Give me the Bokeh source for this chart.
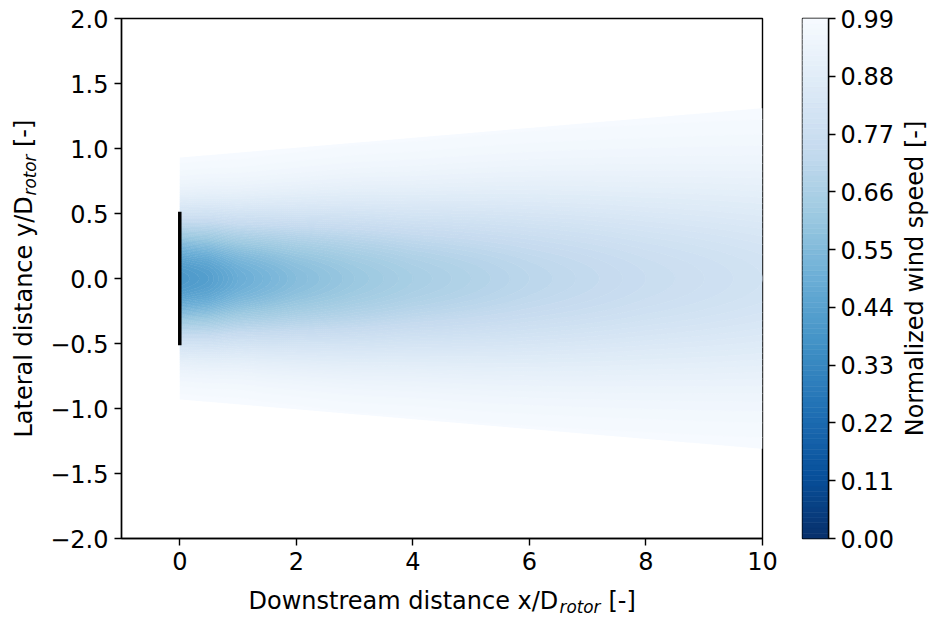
import numpy as np
from bokeh.plotting import figure
from bokeh.models import FixedTicker, CustomJSTickFormatter, Label, Range1d
from bokeh.layouts import row, column
from bokeh.palettes import Blues256
from bokeh.embed import file_html
from bokeh.resources import INLINE

# ---- values ----
station_x = [0.0, 0.5, 1.0, 2.0, 3.0, 4.0, 6.0, 8.0, 10.0]          # x/D stations
centre_speed = [0.40, 0.43, 0.49, 0.56, 0.61, 0.65, 0.71, 0.76, 0.80]  # normalized speed on the axis
wake_sigma = [0.34, 0.35, 0.36, 0.39, 0.42, 0.44, 0.49, 0.53, 0.57]    # lateral wake width y/D
domain_x = [0.0, 10.0]
domain_half_width = [0.93, 1.31]
rotor_x = [0.0, 0.0]
rotor_y = [-0.5, 0.5]
level_min, level_max, n_levels = 0.0, 0.99, 100
x_ticks = [0, 2, 4, 6, 8, 10]
y_ticks = [-2.0, -1.5, -1.0, -0.5, 0.0, 0.5, 1.0, 1.5, 2.0]
cbar_ticks = [0.0, 0.11, 0.22, 0.33, 0.44, 0.55, 0.66, 0.77, 0.88, 0.99]

FONT = "DejaVu Sans"
FS = 24
SUB = 16.8

# ---- field on the (curvilinear) wake mesh ----
gx = np.linspace(domain_x[0], domain_x[-1], 301)
eta = np.linspace(-1.0, 1.0, 241)
half = np.interp(gx, domain_x, domain_half_width)
uc = np.interp(gx, station_x, centre_speed)
sg = np.interp(gx, station_x, wake_sigma)
X = np.tile(gx, (len(eta), 1))
Y = eta[:, None] * half[None, :]
Z = 1.0 - (1.0 - uc)[None, :] * np.exp(-Y ** 2 / (2.0 * sg[None, :] ** 2))

levels = np.linspace(level_min, level_max, n_levels)
pal = list(Blues256)
def _lum(h):
    return int(h[1:3], 16) + int(h[3:5], 16) + int(h[5:7], 16)
if _lum(pal[0]) > _lum(pal[-1]):
    pal = pal[::-1]          # dark -> light (Blues_r)
def cmap(v):
    return pal[int(np.clip(round((v - level_min) / (level_max - level_min) * 255), 0, 255))]
mids = 0.5 * (levels[:-1] + levels[1:])
band_colors = [cmap(m) for m in mids]
level_colors = [cmap(v) for v in levels]

# ---- page geometry (pixels) ----
FRAME_L, FRAME_R, FRAME_T, FRAME_B = 121, 762, 18, 538
W0 = 45                      # width of the y-title strip
XT = 38                      # height of the x-title strip

# ---- main figure ----
W, H = 780 - W0, 617 - XT
p = figure(width=W, height=H, x_range=Range1d(-1, 10), y_range=Range1d(-2, 2),
           output_backend="svg", toolbar_location=None,
           min_border_left=FRAME_L - W0, min_border_right=780 - FRAME_R,
           min_border_top=FRAME_T, min_border_bottom=H - FRAME_B)
p.grid.visible = False
p.outline_line_color = "black"
p.outline_line_width = 1.4

p.contour(x=X, y=Y, z=Z, levels=levels, fill_color=band_colors,
          line_color=level_colors, line_width=1.0)
p.line(x=rotor_x, y=rotor_y, line_color="black", line_width=3.5, line_cap="square")

p.xaxis.ticker = FixedTicker(ticks=x_ticks)
p.yaxis.ticker = FixedTicker(ticks=y_ticks)
p.yaxis.formatter = CustomJSTickFormatter(code="return tick.toFixed(1).replace('-', '\u2212');")

def style_axis(ax, standoff):
    ax.major_tick_out = 7
    ax.major_tick_in = 0
    ax.minor_tick_out = 0
    ax.minor_tick_in = 0
    ax.major_tick_line_width = 1.4
    ax.major_tick_line_color = "black"
    ax.axis_line_width = 1.4
    ax.axis_line_color = "black"
    ax.major_label_text_font = FONT
    ax.major_label_text_font_size = f"{FS}px"
    ax.major_label_text_color = "black"
    ax.major_label_standoff = standoff

style_axis(p.xaxis[0], 6)
style_axis(p.yaxis[0], 6)

# ---- strips holding the axis titles; their frames get aligned with the plot frames,
#      so their ranges are given in page pixels of those aligned frames ----
def strip(width, height, xr, yr):
    f = figure(width=width, height=height, x_range=Range1d(*xr), y_range=Range1d(*yr),
               output_backend="svg", toolbar_location=None, min_border=0,
               x_axis_location=None, y_axis_location=None)
    f.grid.visible = False
    f.outline_line_color = None
    return f

def add_label(fig, x, y, text, size, angle=0.0, style="normal", align="left"):
    fig.add_layout(Label(x=x, y=y, text=text, text_font=FONT,
                         text_font_size=f"{size}px", text_font_style=style,
                         text_color="black", text_align=align,
                         text_baseline="alphabetic", angle=angle))

# y title (reads bottom to top), aligned vertically with the plot frame (18..538)
fy = strip(W0, 617, (0, W0), (FRAME_B, FRAME_T))
add_label(fy, 23, 437, "Lateral distance y/D", FS, angle=np.pi / 2)
add_label(fy, 29, 195, "rotor", SUB, angle=np.pi / 2, style="italic")
add_label(fy, 23, 146.5, "[-]", FS, angle=np.pi / 2)

# x title, aligned horizontally with the plot frame (121..762)
fx = strip(W, XT, (FRAME_L, FRAME_R), (617, 617 - XT))
add_label(fx, 248, 600, "Downstream distance x/D", FS)
add_label(fx, 559, 606, "rotor", SUB, style="italic")
add_label(fx, 608, 600, "[-]", FS)

# ---- colorbar figure ----
CL, CW, CR = 22, 26, 72
p2 = figure(width=CL + CW + CR, height=617, x_range=Range1d(0, 1), y_range=Range1d(level_min, level_max),
            output_backend="svg", toolbar_location=None,
            min_border_left=CL, min_border_right=CR, min_border_top=FRAME_T, min_border_bottom=617 - FRAME_B,
            x_axis_location=None, y_axis_location="right")
p2.grid.visible = False
p2.outline_line_color = "black"
p2.outline_line_width = 1.4
p2.quad(left=0, right=1, bottom=levels[:-1], top=levels[1:],
        fill_color=band_colors, line_color=band_colors, line_width=0.6)
ax = p2.yaxis[0]
ax.ticker = FixedTicker(ticks=cbar_ticks)
ax.formatter = CustomJSTickFormatter(code="return tick.toFixed(2);")
style_axis(ax, 5)

fc = strip(30, 617, (900, 930), (FRAME_B, FRAME_T))
add_label(fc, 914, 278, "Normalized wind speed [-]", FS, angle=np.pi / 2, align="center")

layout = row(fy, column(p, fx), p2, fc)
open("out.html", "w").write(file_html(layout, INLINE))
